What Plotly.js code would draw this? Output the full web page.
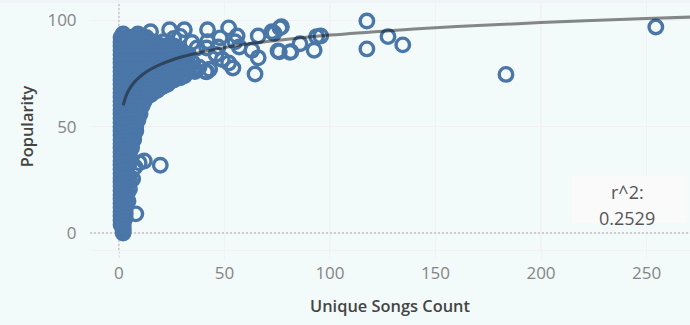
<!DOCTYPE html>
<html><head><meta charset="utf-8">
<script src="https://cdn.plot.ly/plotly-3.0.1.min.js"></script>
<style>html,body{margin:0;padding:0;background:#f3fbfa}</style></head>
<body><div id="chart" style="width:690px;height:325px"></div>
<script>
const popularityLevels=[92,90,88,86,84,82,80,78,76,74,72,70,68,66,64,62,60,58,56,54,52,50,48,46,44,42,40,38,36,34,32,30,28,26,24,22,20,18,16,14,12,10,8,6,4,2,0];
const songCountsByLevel=[
[1,3,5,7,9,11,13],
[1,2,4,6,8,10,12,14,16,21],
[1,3,5,7,9,11,13,15,17,19,22,26],
[1,2,4,6,8,10,12,14,16,18,20,23,25,28],
[1,3,5,7,9,11,13,15,17,19,21,23,25,27,30,33],
[1,2,4,6,8,10,12,14,16,18,20,22,24,26,29,32],
[1,3,5,7,9,11,13,15,17,19,21,23,25,27,31,35],
[1,2,4,6,8,10,12,14,16,18,20,22,24,28,33,38],
[1,3,5,7,9,11,13,15,17,19,21,23,25,29,33,36],
[1,2,4,6,8,10,12,14,16,18,20,22,24,27,31],
[1,3,5,7,9,11,13,15,17,19,21,23,26],
[1,2,4,6,8,10,12,14,16,18,20,23],
[1,3,5,7,9,11,13,15,17,19],
[1,2,4,6,8,10,12,14,16],
[1,3,5,7,9,11,13],
[1,2,4,6,8,10,12],
[1,3,5,7,9,11],
[1,2,4,6,8,10],
[1,3,5,7,9,10],
[1,2,4,6,8,9],
[1,3,5,7,8],
[1,3,5,7,8],
[1,3,5,7,8],
[1,3,5,7],
[1,3,5,7],
[1,3,5,6],
[1,3,5],
[1,3,5],
[1,3,4],
[1,3,4],
[1,3],
[1,3],
[1,3],
[1,3],
[1,3],
[1,3],
[1,3],
[1,3],
[1,3],
[1,3],
[1,2],
[1,2],
[1,2],
[1,2],
[1,2],
[2],
[2]
];
const denseLevels=[91,89,87,85,83,81,79,77,75,73,71,69,67,65,63,61,59,57,55,53,51,49,47,45,43,41,39,37,35,33,31,29,27,25,23,21,19,17,15,13,11,9,7,5,3,1];
const denseCountsByLevel=[
[2,4,6,8,10,12],
[2,3,5,7,9,11,13,15,18],
[2,4,6,8,10,12,14,16,18,20,24],
[2,3,5,7,9,11,13,15,17,19,21,24,27],
[2,4,6,8,10,12,14,16,18,20,22,24,26,28,31],
[2,3,5,7,9,11,13,15,17,19,21,23,25,28,30],
[2,4,6,8,10,12,14,16,18,20,22,24,26,29,33],
[2,3,5,7,9,11,13,15,17,19,21,23,26,30,35],
[2,4,6,8,10,12,14,16,18,20,22,24,27,31],
[2,3,5,7,9,11,13,15,17,19,21,23,25,29],
[2,4,6,8,10,12,14,16,18,20,22,24],
[2,3,5,7,9,11,13,15,17,19,21],
[2,4,6,8,10,12,14,16,18],
[2,3,5,7,9,11,13,15],
[2,4,6,8,10,12],
[2,3,5,7,9,11],
[2,4,6,8,10],
[2,3,5,7,9],
[2,4,6,8],
[2,3,5,7,9],
[2,4,6,8],
[2,3,5,7],
[2,4,6,7],
[2,3,5,6],
[2,4,6],
[2,3,5],
[2,4,5],
[2,3,4],
[2,4],
[2,3,5],
[2,4],
[2,3],
[2,4],
[2,3,5],
[2,4],
[2,3],
[2,4],
[2,3],
[2,4],
[2,3],
[2,3],
[2,3],
[2,3],
[2],
[2],
[2]
];
const isolatedSongs=[2,9,15,24,31,42,52,66,72.5,77,73.5,75.4,81,63,66,64.5,56,48,42,55,57,47,41.6,46,49,52,54,41.6,41,43,117.5,117.5,127.5,134.5,92.5,93.7,95.6,85.8,81.5,76,76.3,183.4,254.4,12,19.6,9.6,7.6,6.5,5,4.3,8,6,29,34.6,26,37];
const isolatedPopularity=[93.6,93.6,94.7,95.6,95.6,95.6,96.5,92.7,94.7,97,94,85.6,85,86,82.4,74.8,92.7,91.8,90,90,87.5,87.5,87,84,81.6,80,77.6,75.8,76,77,99.7,86.6,92.4,88.5,86,92.4,92.7,89,85.3,85.3,96.5,74.6,96.9,33.9,31.9,33,31,25.4,20.6,15,9,40,92.5,89.6,91.5,87];
const trendSongs=[2,3,4,5,7,10,15,20,30,40,50,60,80,100,130,160,200,250,272];
const trendPopularity=[60,63.4,65.9,67.8,70.6,73.6,77,79.5,82.9,85.3,87.2,88.8,91.2,93.1,95.3,97.1,99,100.9,101.6];
const xTicks=[0,50,100,150,200,250];
const yTicks=[0,50,100];
const xTitle="Unique Songs Count", yTitle="Popularity";
const noteLabel="r^2:", noteValue="0.2529";

const xs=[],ys=[];
popularityLevels.forEach((p,i)=>songCountsByLevel[i].forEach(s=>{xs.push(s);ys.push(p);}));
denseLevels.forEach((p,i)=>denseCountsByLevel[i].forEach(s=>{xs.push(s);ys.push(p);}));
isolatedSongs.forEach((s,i)=>{xs.push(s);ys.push(isolatedPopularity[i]);});
const font="'Open Sans', sans-serif";
const grid="#f0f2f3";
const dash={color:"#c2c2c2",width:1.3,dash:"2px,2px"};
Plotly.newPlot("chart",[
 {type:"scatter",mode:"markers",x:xs,y:ys,cliponaxis:false,hoverinfo:"skip",
  marker:{symbol:"circle-open",size:13.5,color:"#4a76a8",line:{width:3.4,color:"#4a76a8"}}},
 {type:"scatter",mode:"lines",x:trendSongs,y:trendPopularity,line:{color:"rgba(20,20,20,0.5)",width:3,shape:"spline"},hoverinfo:"skip"}
],{
 width:690,height:325,margin:{l:90,r:0,t:3,b:75},
 paper_bgcolor:"#f3fbfa",plot_bgcolor:"#f3fbfa",showlegend:false,
 font:{family:font},
 xaxis:{range:[-13.7,270.6],tickvals:xTicks,showgrid:true,gridcolor:grid,gridwidth:1.5,zeroline:false,
  showline:true,linecolor:grid,ticks:"outside",ticklen:8,tickcolor:grid,
  tickfont:{size:17,color:"#858585",family:font},
  title:{text:xTitle,font:{size:16.4,color:"#444444",family:font,weight:600},standoff:17}},
 yaxis:{range:[-8,108.2],tickvals:yTicks,showgrid:true,gridcolor:grid,gridwidth:1.5,zeroline:false,
  ticks:"outside",ticklen:9,tickcolor:"rgba(0,0,0,0)",tickfont:{size:17,color:"#858585",family:font},
  title:{text:yTitle,font:{size:16.4,color:"#444444",family:font,weight:600},standoff:9}},
 shapes:[
  {type:"rect",xref:"paper",yref:"paper",x0:-0.2,x1:1,y0:1,y1:1.02,line:{width:0},fillcolor:"#f0f4f9",layer:"below"},
  {type:"rect",xref:"x",yref:"y",x0:214.7,x1:269.2,y0:4.7,y1:26.8,line:{width:0},fillcolor:"#fafafa",layer:"between"},
  {type:"line",xref:"x",yref:"y",x0:0,x1:0,y0:-8,y1:108.2,line:dash,layer:"between"},
  {type:"line",xref:"x",yref:"paper",x0:0,x1:0,y0:-0.03,y1:0,line:dash,layer:"below"},
  {type:"line",xref:"x",yref:"y",x0:-13.7,x1:270.6,y0:0,y1:0,line:dash,layer:"between"}
 ],
 annotations:[
  {xref:"x",yref:"y",x:240.8,y:19.3,text:noteLabel,showarrow:false,font:{size:18,color:"#555555",family:font}},
  {xref:"x",yref:"y",x:240.8,y:7,text:noteValue,showarrow:false,font:{size:18,color:"#555555",family:font}}
 ]
},{displayModeBar:false,staticPlot:true});
</script></body></html>
